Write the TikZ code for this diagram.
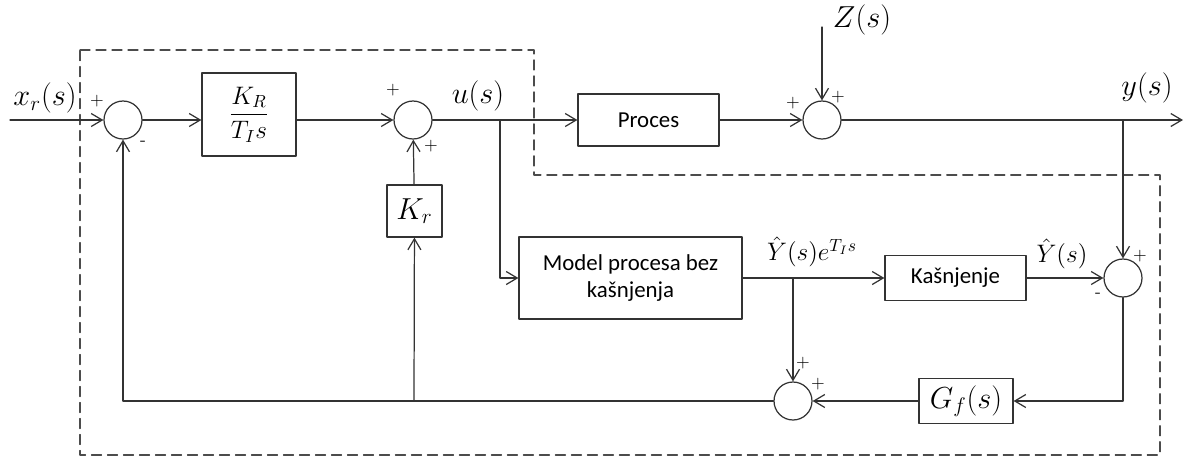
\documentclass[tikz,border=0pt]{standalone}
\usepackage{amsmath}
\usepackage{fontspec}
\newfontfamily\boxfont{Carlito}
\usetikzlibrary{arrows.meta}
\begin{document}
\begin{tikzpicture}[x=0.02cm, y=-0.02cm, line join=round, line cap=round, >={Straight Barb[length=2.2mm,width=2.6mm]},
	color=black!80, line width=0.7pt,
	block/.style={draw, rectangle, inner sep=0pt, text=black, font=\boxfont\fontsize{13}{15}\selectfont, align=center},
	sumnode/.style={draw, circle, minimum size=0.76cm, inner sep=0pt},
	lbl/.style={text=black, font=\LARGE}]
	\useasboundingbox (0,0) rectangle (1187,461);
	%\draw[color=gray!30] (0,0) grid[step=1] (23,9);
	% dashed controller boundary
	\draw[dashed, dash pattern=on 2mm off 1.2mm, draw=black!70] (80,50)--(534,50)--(534,175)--(1160,175)--(1160,455)--(80,455)--cycle;
	% blocks
	\node[sumnode] (s1) at (123,120) {};
	\node[block, minimum width=1.88cm, minimum height=1.66cm] (pi) at (249,114.5) {\Large$\dfrac{K_R}{T_I s}$};
	\node[sumnode] (s2) at (413,120) {};
	\node[block, minimum width=2.82cm, minimum height=1.04cm] (proc) at (648.5,120) {Proces};
	\node[sumnode] (s3) at (822,120) {};
	\node[block, minimum width=1.1cm, minimum height=1.04cm] (kr) at (414.5,211) {\LARGE$K_r$};
	\node[block, minimum width=4.46cm, minimum height=1.64cm] (model) at (630.5,278) {Model procesa bez\\kašnjenja};
	\node[block, minimum width=2.82cm, minimum height=0.9cm] (kas) at (955.5,278) {Kašnjenje};
	\node[sumnode] (s4) at (1123,278) {};
	\node[sumnode] (s5) at (793,401) {};
	\node[block, minimum width=1.88cm, minimum height=0.9cm] (gf) at (966,401) {\LARGE$G_f(s)$};
	% free ends and branch points
	\coordinate (in) at (10,120);
	\coordinate (ub) at (500,120);
	\coordinate (zin) at (822,27);
	\coordinate (yb) at (1123,120);
	\coordinate (out) at (1183,120);
	\coordinate (mb) at (793,278);
	\coordinate (kb) at (414,401);
	% connections
	\draw[->] (in)--(s1);
	\draw[->] (s1)--(s1 -| pi.west);
	\draw[->] (pi.east |- s2)--(s2);
	\draw[->] (s2)--(proc);
	\draw[->] (ub)|-(model);
	\draw[->] (proc)--(s3);
	\draw[->] (zin)--(s3);
	\draw[->] (s3)--(out);
	\draw[->] (yb)--(s4);
	\draw[->] (model)--(kas);
	\draw[->] (kas)--(s4);
	\draw[->] (mb)--(s5);
	\draw[->] (s4)|-(gf);
	\draw[->] (gf)--(s5);
	\draw[->] (s5)-|(s1);
	\draw[->] (kb)--(kr);
	\draw[->] (kr)--(s2);
	% signal labels
	\draw (45,98) node[lbl]{$x_r(s)$} (478,96) node[lbl]{$u(s)$} (862,20) node[lbl]{$Z(s)$} (1147,88) node[lbl]{$y(s)$};
	\draw (812,252) node[lbl, font=\Large]{$\hat{Y}(s)e^{T_I s}$} (1062,254) node[lbl, font=\Large]{$\hat{Y}(s)$};
	% signs
	\foreach \x/\y/\s in {97/101/+,143/143/-,393/90/+,431/146/+,793/103/+,838/97/+,1140/256/+,1098/295/-,803/363/+,818/384/+}
	\draw (\x,\y) node[text=black]{\s};
\end{tikzpicture}
\end{document}
